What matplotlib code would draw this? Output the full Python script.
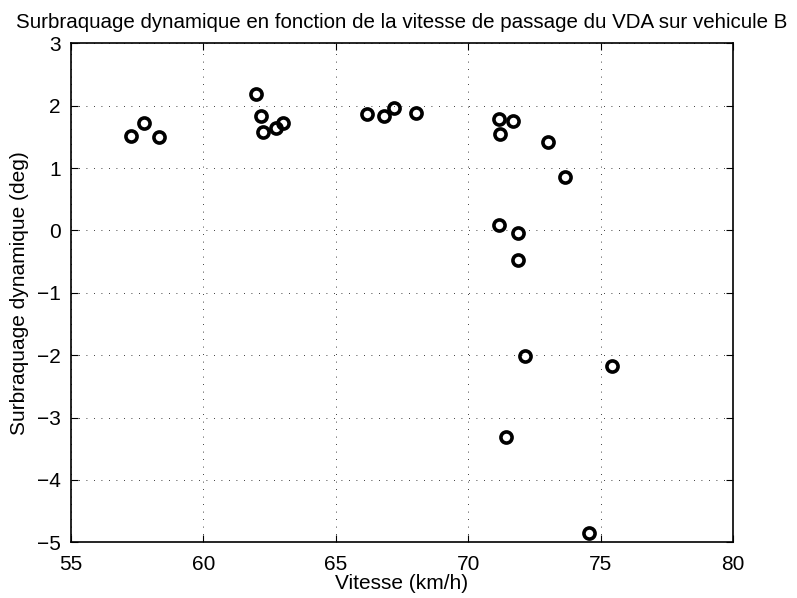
import numpy as np
import matplotlib
matplotlib.use('Agg')
import matplotlib.pyplot as plt

plt.rcParams['font.family'] = ['Liberation Sans', 'DejaVu Sans']

# vitesse de passage (km/h) et surbraquage dynamique (deg)
vitesse = [57.26, 57.78, 58.34, 61.98, 62.19, 62.26, 62.75, 63.02,
           66.17, 66.82, 67.21, 68.02, 71.16, 71.68, 71.20, 73.00,
           73.66, 71.15, 71.89, 71.87, 72.13, 75.44, 71.42, 74.57]
surbraquage = [1.52, 1.73, 1.50, 2.19, 1.83, 1.58, 1.65, 1.72,
               1.87, 1.84, 1.96, 1.88, 1.78, 1.75, 1.54, 1.41,
               0.86, 0.09, -0.04, -0.47, -2.01, -2.17, -3.31, -4.85]

fig = plt.figure(figsize=(7.97, 5.98), dpi=100)
ax = fig.add_axes([0.0887, 0.0931, 0.9200 - 0.0887, 0.9276 - 0.0931])

ax.plot(vitesse, surbraquage, 'o', mfc='none', mec='k', ms=8, mew=2.6)

ax.set_xlim(55, 80)
ax.set_ylim(-5, 3)
ax.set_xticks(np.arange(55, 81, 5))
ax.set_yticks(np.arange(-5, 4, 1))
ax.grid(True, linestyle=(0, (1, 8)), color='k', linewidth=0.6)
ax.tick_params(direction='in', top=True, right=True, length=5, width=0.8,
               labelsize=15, colors='k')
ax.tick_params(axis='x', pad=9)
ax.tick_params(axis='y', pad=7)
for s in ax.spines.values():
    s.set_linewidth(1.2)

ax.set_xlabel('Vitesse (km/h)', fontsize=15, labelpad=0)
ax.set_ylabel('Surbraquage dynamique (deg)', fontsize=15, labelpad=6)
ax.set_title('Surbraquage dynamique en fonction de la vitesse de passage du VDA sur vehicule B',
             fontsize=14.8, pad=11)

fig.savefig('out.png', dpi=100)
